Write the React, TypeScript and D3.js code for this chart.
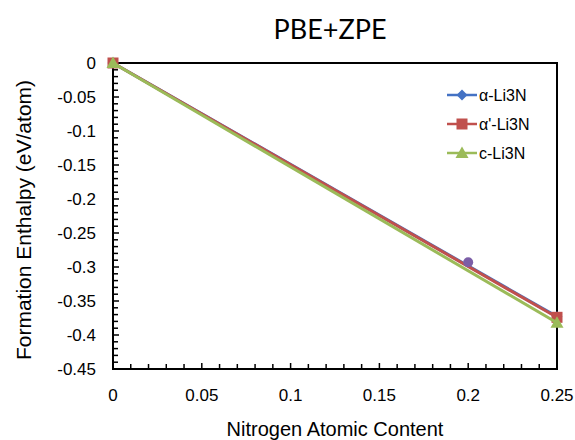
import React from "react";
import * as d3 from "d3";

const seriesNames = ["α-Li3N", "α'-Li3N", "c-Li3N"];
const seriesColors = ["#4472C4", "#C0504D", "#9BBB59"];
const seriesShapes = ["diamond", "square", "triangle"];
const xValues = [0, 0.25];
const alphaValues = [0, -0.373];
const alphaPrimeValues = [0, -0.374];
const cubicValues = [0, -0.382];
const extraPoint = { x: 0.2, y: -0.293 };
const xTicks = [0, 0.05, 0.1, 0.15, 0.2, 0.25];
const yTicks = [0, -0.05, -0.1, -0.15, -0.2, -0.25, -0.3, -0.35, -0.4, -0.45];

const W = 575, H = 440;
const m = { left: 113, right: 18, top: 63, bottom: 71 };

export default function App() {
  const x = d3.scaleLinear().domain([0, 0.25]).range([m.left, W - m.right]);
  const y = d3.scaleLinear().domain([-0.45, 0]).range([H - m.bottom, m.top]);
  const allSeries = [alphaValues, alphaPrimeValues, cubicValues];
  const line = d3.line<number>().x((_, i) => x(xValues[i])).y((v) => y(v));
  const minorY = d3.range(0, 46).map((i) => -i * 0.01);
  const minorX = d3.range(0, 26).map((i) => i * 0.01);
  const font = "'Liberation Sans', Arial, sans-serif";

  const marker = (shape: string, cx: number, cy: number, color: string, key: string) => {
    if (shape === "diamond") {
      const s = 5.5;
      return <path key={key} d={`M${cx},${cy - s}L${cx + s},${cy}L${cx},${cy + s}L${cx - s},${cy}Z`} fill={color} />;
    }
    if (shape === "square") {
      const s = 5.5;
      return <rect key={key} x={cx - s} y={cy - s} width={2 * s} height={2 * s} fill={color} />;
    }
    const s = 6.5;
    return <path key={key} d={`M${cx},${cy - s}L${cx + s},${cy + s * 0.75}L${cx - s},${cy + s * 0.75}Z`} fill={color} />;
  };

  return (
    <svg width={W} height={H} style={{ position: "absolute", left: 0, top: 0, background: "#fff" }}>
      <text x={330} y={39} textAnchor="middle" fontFamily="Lato, 'Open Sans', sans-serif" fontSize={27} fill="#000">PBE+ZPE</text>
      {/* frame */}
      <rect x={x(0)} y={y(0)} width={x(0.25) - x(0)} height={y(-0.45) - y(0)} fill="none" stroke="#000" strokeWidth={2} />
      {/* y ticks */}
      {minorY.map((v, i) => (
        <line key={"my" + i} x1={x(0)} x2={x(0) + (i % 5 === 0 ? 6 : 5)} y1={y(v)} y2={y(v)} stroke="#000" strokeWidth={1.5} />
      ))}
      {minorX.map((v, i) => (
        <line key={"mx" + i} x1={x(v)} x2={x(v)} y1={y(-0.45)} y2={y(-0.45) - (i % 5 === 0 ? 6 : 5)} stroke="#000" strokeWidth={1.5} />
      ))}
      {yTicks.map((v) => (
        <text key={"yt" + v} x={x(0) - 17} y={y(v) + 6} textAnchor="end" fontFamily={font} fontSize={17} fill="#000">{v === 0 ? "0" : String(v)}</text>
      ))}
      {xTicks.map((v) => (
        <text key={"xt" + v} x={x(v)} y={y(-0.45) + 32} textAnchor="middle" fontFamily={font} fontSize={17} fill="#000">{String(v)}</text>
      ))}
      <text x={335} y={436} textAnchor="middle" fontFamily={font} fontSize={20} fill="#000">Nitrogen Atomic Content</text>
      <text transform={`translate(31,${220}) rotate(-90)`} textAnchor="middle" fontFamily={font} fontSize={21} fill="#000">Formation Enthalpy (eV/atom)</text>
      {/* series */}
      {allSeries.map((vals, si) => (
        <g key={"s" + si}>
          <path d={line(vals) || ""} fill="none" stroke={seriesColors[si]} strokeWidth={3} />
          {vals.map((v, i) => marker(seriesShapes[si], x(xValues[i]), y(v), seriesColors[si], `m${si}-${i}`))}
        </g>
      ))}
      <circle cx={x(extraPoint.x)} cy={y(extraPoint.y)} r={5} fill="#7B5EA7" />
      {/* legend */}
      {seriesNames.map((n, i) => {
        const ly = 95 + i * 29;
        return (
          <g key={"lg" + i}>
            <line x1={447} x2={477} y1={ly} y2={ly} stroke={seriesColors[i]} strokeWidth={2.5} />
            {marker(seriesShapes[i], 462, ly, seriesColors[i], "lm" + i)}
            <text x={479} y={ly + 6} fontFamily={font} fontSize={16} fill="#000">{n}</text>
          </g>
        );
      })}
    </svg>
  );
}
